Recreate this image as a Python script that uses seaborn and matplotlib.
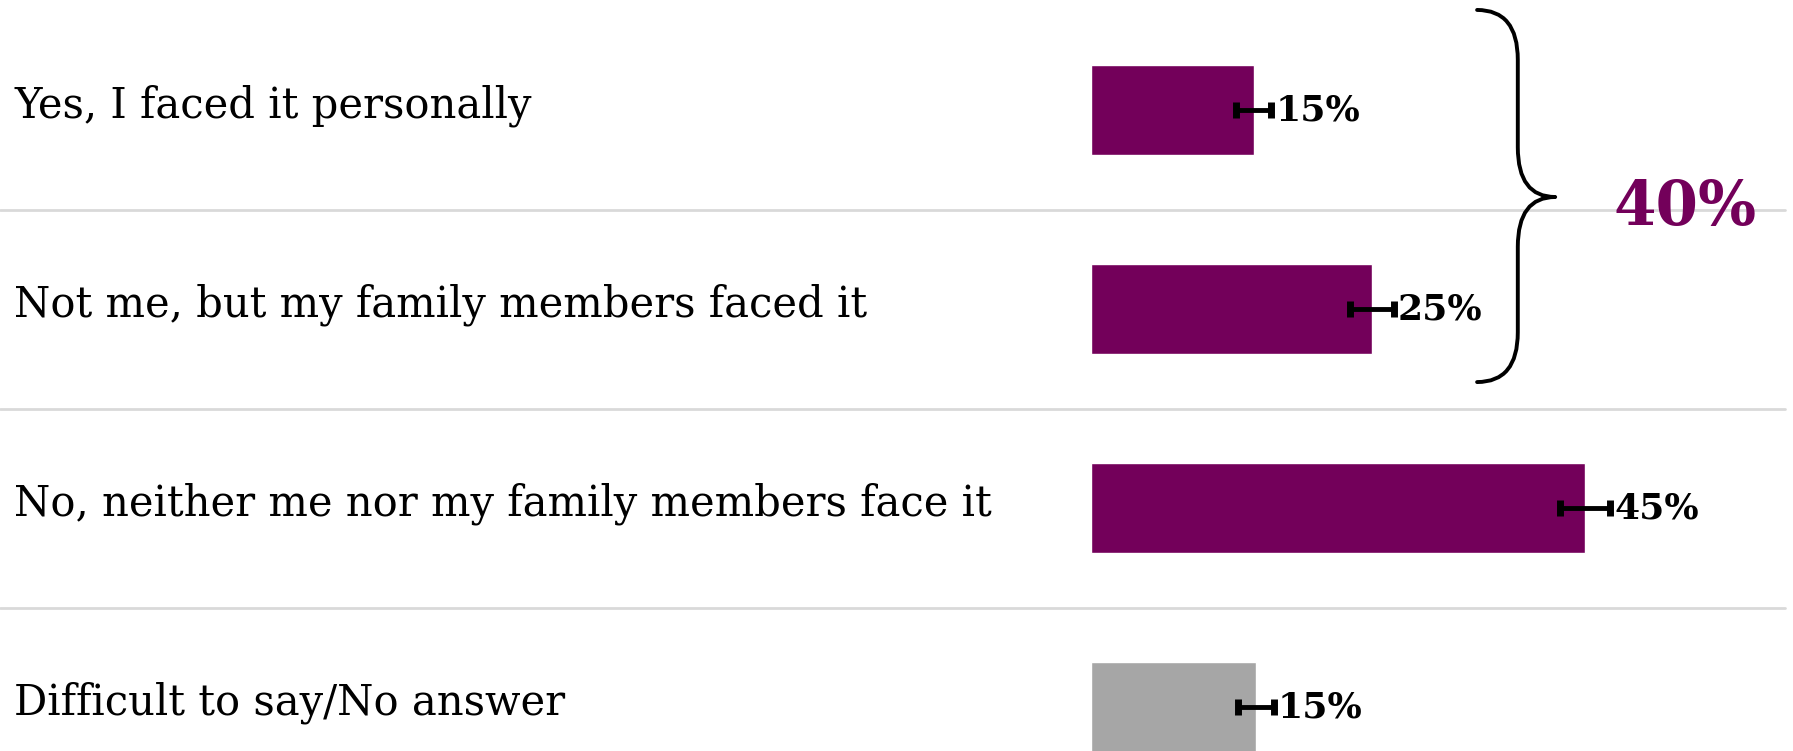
import matplotlib
matplotlib.use("Agg")
import matplotlib.pyplot as plt
import seaborn as sns
import pandas as pd
from matplotlib.path import Path
from matplotlib.patches import PathPatch

categories = [
    "Yes, I faced it personally",
    "Not me, but my family members faced it",
    "No, neither me nor my family members face it",
    "Difficult to say/No answer",
]
values = [14.8, 25.5, 44.9, 15.0]
errors = [1.6, 2.0, 2.3, 1.6]
value_labels = ["15%", "25%", "45%", "15%"]
bar_colors = ["#73005A", "#73005A", "#73005A", "#A6A6A6"]
group_label = "40%"

sns.set_theme(style="white")
plt.rcParams["font.family"] = ["DejaVu Serif"]

df = pd.DataFrame({"category": categories, "value": values})

fig = plt.figure(figsize=(17.93, 7.51), dpi=100)
ax = fig.add_axes([0, 0, 1, 1])

sns.barplot(data=df, x="value", y="category", hue="category", palette=bar_colors,
            legend=False, width=0.45, ax=ax, saturation=1)

ys = list(range(len(categories)))
ax.errorbar(values, ys, xerr=errors, fmt="none", ecolor="black",
            elinewidth=3.5, capsize=6, capthick=5, zorder=5)

px_per_pct = 11.0
x0 = 1091
ax.set_xlim(-x0 / px_per_pct, (1793 - x0) / px_per_pct)
ax.set_ylim(3.221, -0.553)

for i in range(len(categories) - 1):
    ax.axhline(i + 0.5, color="#D9D9D9", lw=2, xmax=1785 / 1793, zorder=0)

for i, (cat, v, e, lab) in enumerate(zip(categories, values, errors, value_labels)):
    ax.text(14 / 1793, i - 0.02, cat, transform=ax.get_yaxis_transform(), ha="left",
            va="center", fontsize=30, color="black")
    ax.text(v + e + 0.4, i, lab, ha="left", va="center", fontsize=26,
            fontweight="bold", color="black")

# brace over first two categories
xa, xs, xt = 35.1, 38.8, 42.2
ytop, ymid, ybot = -0.503, 0.437, 1.367
r = 0.25
verts = [
    (xa, ytop), (xs, ytop), (xs, ytop + r),
    (xs, ymid - r), (xs, ymid), (xt, ymid),
    (xs, ymid), (xs, ymid + r),
    (xs, ybot - r), (xs, ybot), (xa, ybot),
]
codes = [Path.MOVETO, Path.CURVE3, Path.CURVE3,
         Path.LINETO, Path.CURVE3, Path.CURVE3,
         Path.CURVE3, Path.CURVE3,
         Path.LINETO, Path.CURVE3, Path.CURVE3]
ax.add_patch(PathPatch(Path(verts, codes), fill=False, lw=2.8, edgecolor="black",
                       capstyle="round", joinstyle="round", zorder=6))
ax.text(54.0, 0.49, group_label, ha="center", va="center", fontsize=44,
        fontweight="bold", color="#73005A")

ax.set_axis_off()
fig.savefig("out.png", dpi=100)
